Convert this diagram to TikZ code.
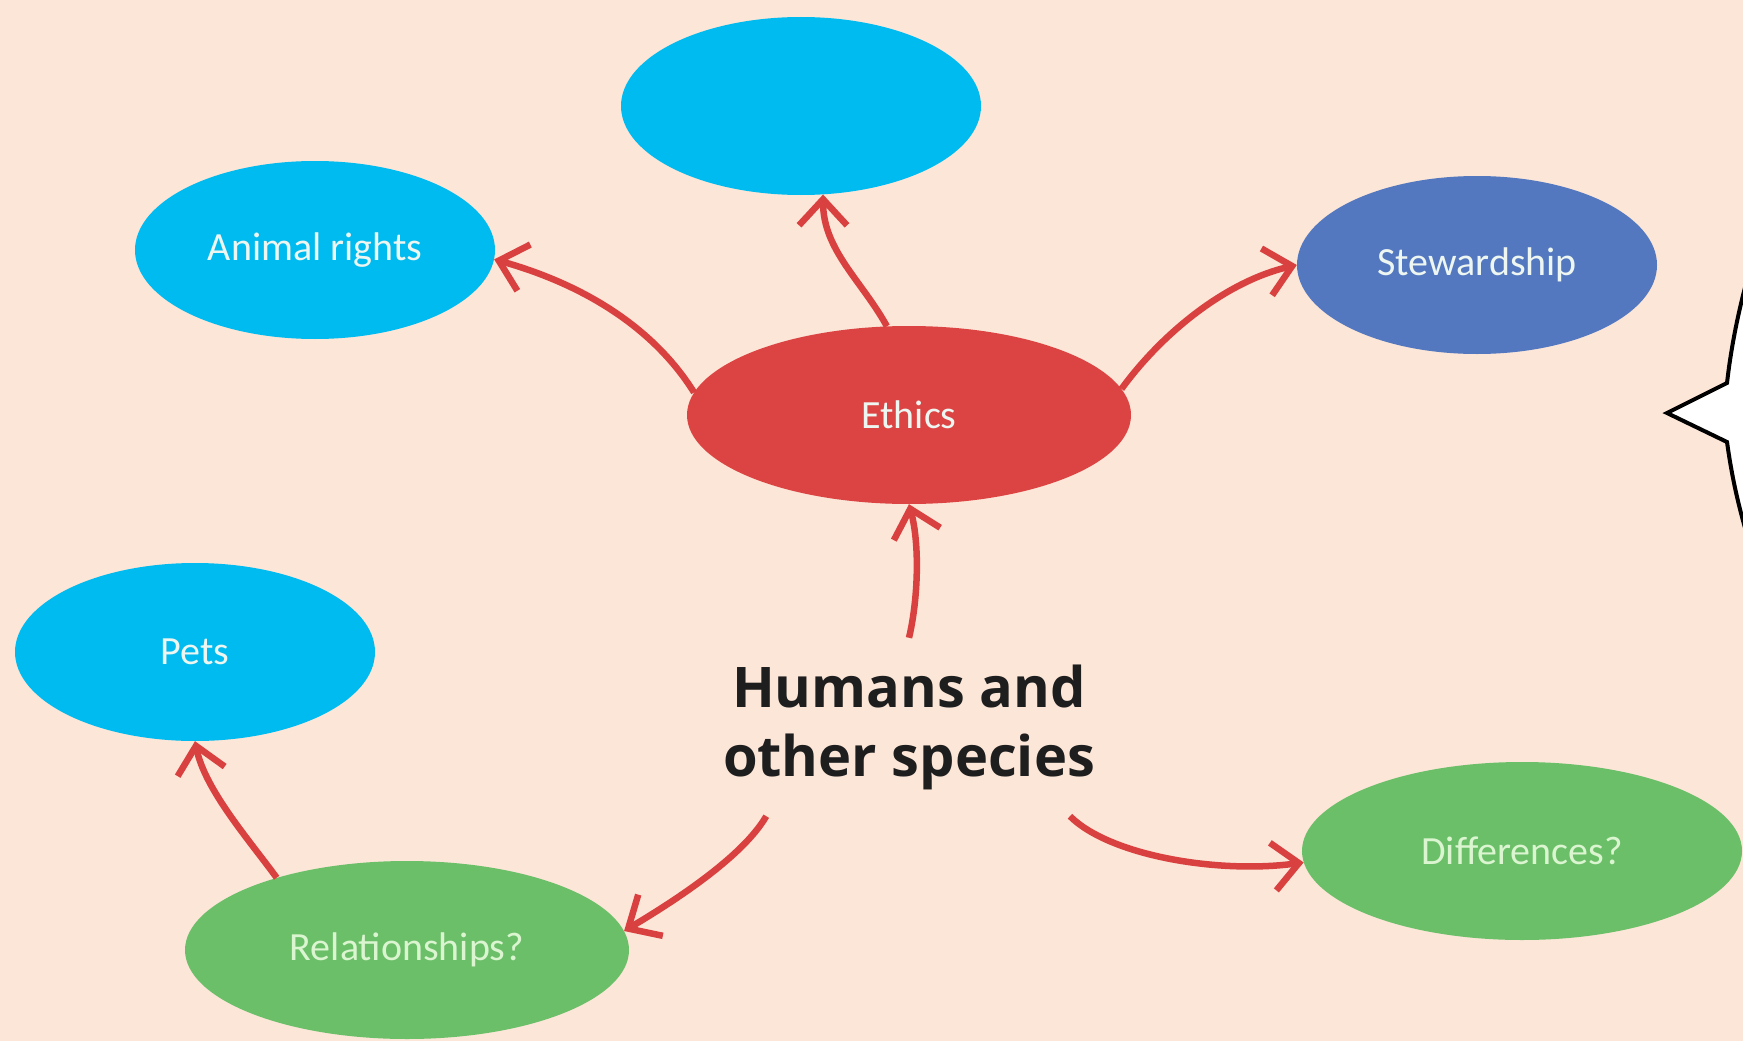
\documentclass[tikz,border=0pt]{standalone}
\usepackage{fontspec}
\setmainfont{Carlito}
\newfontfamily\headfont{Open Sans}
\usetikzlibrary{shapes.geometric,arrows.meta}

\definecolor{paper}{HTML}{FCE6D8}
\definecolor{skyblue}{HTML}{00BBEF}
\definecolor{stewblue}{HTML}{5378BF}
\definecolor{ethicsred}{HTML}{DC4444}
\definecolor{leafgreen}{HTML}{6BBF69}
\definecolor{linkred}{HTML}{D8413F}
\definecolor{palefont}{HTML}{EEF6F2}
\definecolor{palegreen}{HTML}{DAF5D0}
\definecolor{ink}{HTML}{1E1E1E}

\begin{document}
\begin{tikzpicture}[x=1pt,y=-1pt,
  bubble/.style={ellipse, inner sep=0pt, text=palefont,
    minimum width=360pt, minimum height=178pt,
    font=\fontsize{40}{48}\selectfont},
  wide/.style={minimum width=444pt},
  greenbubble/.style={bubble, wide, fill=leafgreen, text=palegreen},
  headtext/.style={align=center, inner sep=0pt, text=ink,
    minimum width=400pt, minimum height=178pt,
    font=\headfont\bfseries\fontsize{56}{69}\selectfont},
  link/.style={draw=linkred, line width=6.5pt,
    -{Straight Barb[length=26pt,width=48pt]}}]

  % page background
  \fill[paper] (0,0) rectangle (1743,1041);
  \useasboundingbox (0,0) rectangle (1743,1041);

  % edge of a speech bubble entering from the right
  \begin{scope}
    \clip (0,0) rectangle (1743,1041);
    \draw[fill=white, line width=4pt, line join=miter]
      (1775,200) .. controls (1748,262) and (1733,330) .. (1727,383)
      -- (1667,413) -- (1727,442)
      .. controls (1733,485) and (1742,525) .. (1765,590) -- (1800,590) -- (1800,200) -- cycle;
  \end{scope}

  % topic bubbles
  \node[bubble, fill=skyblue] (topb) at (801,106) {};
  \node[bubble, fill=skyblue] (arights) at (315,250) {Animal rights};
  \node[bubble, fill=stewblue] (stew) at (1477,265) {Stewardship};
  \node[bubble, wide, fill=ethicsred] (ethics) at (909,415) {Ethics};
  \node[bubble, fill=skyblue] (pets) at (195,652) {Pets};
  \node[greenbubble] (rel) at (407,950) {Relationships?};
  \node[greenbubble, minimum width=440pt] (diff) at (1522,851) {Differences?};

  % central topic
  \node[headtext] (humans) at (909,727) {Humans and\\other species};

  % connectors
  \draw[link] (ethics.174) .. controls (650,322) and (575,282) .. (arights.-3);
  \draw[link] (ethics.104) .. controls (862,281) and (823,250) .. (topb.-76);
  \draw[link] (ethics.7) .. controls (1163,332) and (1227,281) .. (stew.west);
  \draw[link] (humans.north) .. controls (918,600) and (920,545) .. (ethics.south);
  \draw[link] (humans.-148) .. controls (742,858) and (671,903) .. (rel.5);
  \draw[link] (rel.151) .. controls (250,841) and (205,790) .. (pets.south);
  \draw[link] (humans.-29.5) .. controls (1110,856) and (1219,874) .. (diff.183);
\end{tikzpicture}
\end{document}
